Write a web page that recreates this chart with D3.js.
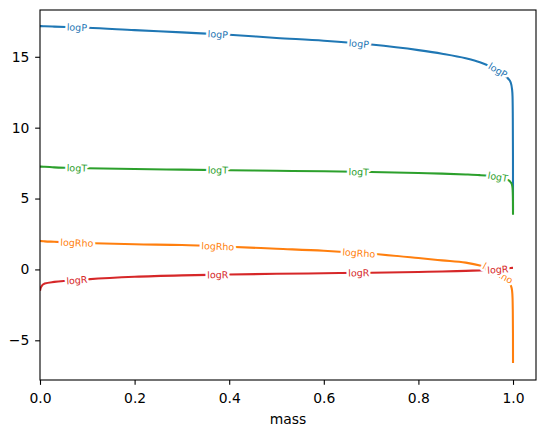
<!DOCTYPE html>
<html>
<head>
<meta charset="utf-8">
<script src="https://cdn.jsdelivr.net/npm/d3@7"></script>
<style>
  body { margin: 0; background: #fff; }
  svg { display: block; font-family: "DejaVu Sans", sans-serif; }
</style>
</head>
<body>
<script>
// stellar profile
var mass   = [0, 0.002, 0.01, 0.03, 0.06, 0.1, 0.2, 0.3, 0.4, 0.5, 0.6, 0.7, 0.8, 0.85, 0.9, 0.93, 0.95, 0.97, 0.98, 0.99, 0.995, 0.998, 0.999, 0.9995, 0.9999, 1.0];
var logP   = [17.16, 17.16, 17.15, 17.13, 17.1, 17.05, 16.88, 16.72, 16.55, 16.33, 16.13, 15.86, 15.47, 15.22, 14.9, 14.62, 14.35, 14.02, 13.75, 13.45, 13.2, 12.7, 12.2, 11.0, 8.0, 4.2];
var logRho = [2.03, 2.0, 1.98, 1.95, 1.9, 1.86, 1.77, 1.72, 1.6, 1.46, 1.32, 1.1, 0.8, 0.64, 0.48, 0.27, 0.05, -0.3, -0.5, -0.8, -1.1, -1.5, -2.0, -2.8, -4.5, -6.6];
var logT   = [7.25, 7.25, 7.24, 7.2, 7.17, 7.14, 7.08, 7.04, 7.0, 6.96, 6.92, 6.87, 6.8, 6.76, 6.7, 6.65, 6.6, 6.52, 6.42, 6.3, 6.15, 5.95, 5.75, 5.45, 4.8, 3.85];
var logR   = [-1.5, -1.25, -1.0, -0.88, -0.8, -0.7, -0.52, -0.42, -0.36, -0.31, -0.27, -0.23, -0.18, -0.15, -0.1, -0.07, -0.04, 0.0, 0.03, 0.07, 0.1, 0.11, 0.11, 0.12, 0.12, 0.12];
var names  = ["logP", "logRho", "logT", "logR"];

var w = 546, h = 432;
var mLeft = 40, mRight = 536, mTop = 10, mBottom = 380;

var svg = d3.select("body").append("svg").attr("width", w).attr("height", h);

var x = d3.scaleLinear().domain([0, 1.0486]).range([mLeft, mRight]);
var y = d3.scaleLinear().domain([-7.8, 18.3]).range([mBottom, mTop]);

var colors = ["#1f77b4", "#ff7f0e", "#2ca02c", "#d62728"];
var series = [logP, logRho, logT, logR].map(function(vals, i) {
  return {name: names[i], color: colors[i], values: mass.map(function(m, j) { return [m, vals[j]]; })};
});

svg.append("defs").append("clipPath").attr("id", "clip")
  .append("rect").attr("x", mLeft).attr("y", mTop).attr("width", mRight - mLeft).attr("height", mBottom - mTop);

var line = d3.line()
  .x(function(d) { return x(d[0]); })
  .y(function(d) { return y(d[1]); })
  .curve(d3.curveMonotoneX);

var plot = svg.append("g").attr("clip-path", "url(#clip)");
plot.selectAll("path").data(series).enter().append("path")
  .attr("d", function(d) { return line(d.values); })
  .attr("fill", "none")
  .attr("stroke", function(d) { return d.color; })
  .attr("stroke-width", 2.08);

// inline labels like labellines
function interp(vals, m) {
  var i = d3.bisector(function(d) { return d[0]; }).right(vals, m);
  i = Math.max(1, Math.min(vals.length - 1, i));
  var a = vals[i - 1], b = vals[i];
  return a[1] + (b[1] - a[1]) * (m - a[0]) / (b[0] - a[0]);
}

var labelAt = [0.078, 0.376, 0.674, 0.968];
var labels = svg.append("g");
series.forEach(function(s) {
  labelAt.forEach(function(m) {
    var px = x(m), py = y(interp(s.values, m));
    var x0 = x(m - 0.005), y0 = y(interp(s.values, m - 0.005));
    var x1 = x(m + 0.005), y1 = y(interp(s.values, m + 0.005));
    var ang = Math.atan2(y1 - y0, x1 - x0) * 180 / Math.PI;
    labels.append("text")
      .attr("transform", "translate(" + px + "," + py + ") rotate(" + ang + ")")
      .attr("text-anchor", "middle")
      .attr("dominant-baseline", "central")
      .attr("font-size", "9.5px")
      .attr("fill", s.color)
      .attr("stroke", "white")
      .attr("stroke-width", 5)
      .attr("stroke-linejoin", "round")
      .attr("paint-order", "stroke")
      .text(s.name);
  });
});

// axes
var xAxis = svg.append("g").attr("transform", "translate(0," + mBottom + ")")
  .call(d3.axisBottom(x).tickValues([0, 0.2, 0.4, 0.6, 0.8, 1.0]).tickFormat(d3.format(".1f"))
    .tickSize(4.86).tickSizeOuter(0).tickPadding(8.3));
var yAxis = svg.append("g").attr("transform", "translate(" + mLeft + ",0)")
  .call(d3.axisLeft(y).tickValues([-5, 0, 5, 10, 15]).tickFormat(d3.format("d"))
    .tickSize(4.86).tickSizeOuter(0).tickPadding(5.8));

[xAxis, yAxis].forEach(function(g) {
  g.select(".domain").remove();
  g.selectAll("line").attr("stroke", "#000").attr("stroke-width", 1.1);
  g.selectAll("text").attr("font-family", "DejaVu Sans").attr("font-size", "13.9px").attr("fill", "#000");
});

svg.append("rect")
  .attr("x", mLeft).attr("y", mTop).attr("width", mRight - mLeft).attr("height", mBottom - mTop)
  .attr("fill", "none").attr("stroke", "#000").attr("stroke-width", 1.1);

svg.append("text")
  .attr("x", (mLeft + mRight) / 2).attr("y", 424)
  .attr("text-anchor", "middle")
  .attr("font-size", "13.9px")
  .text("mass");
</script>
</body>
</html>
